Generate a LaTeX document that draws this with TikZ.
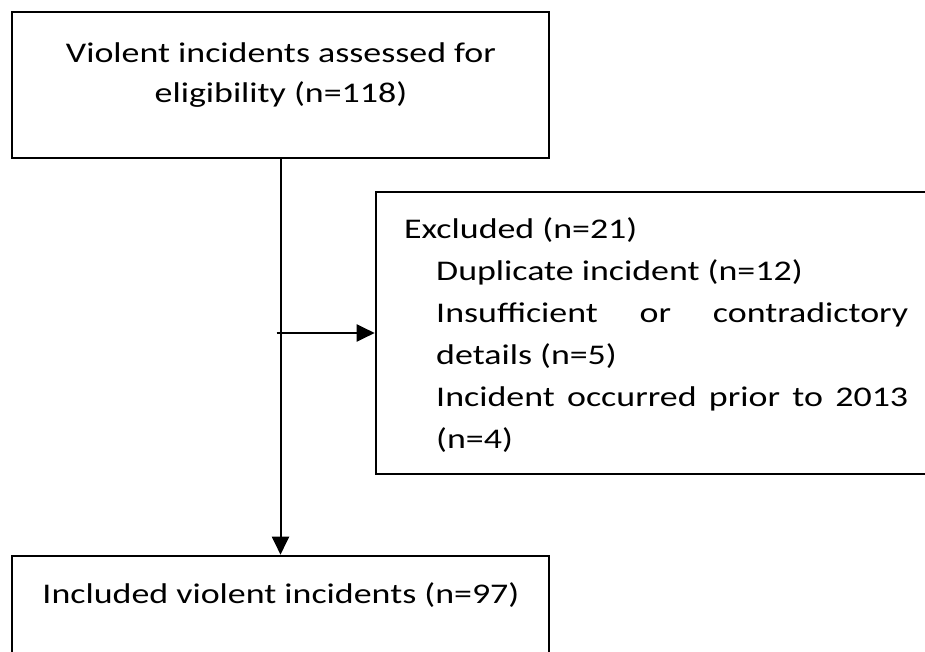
\documentclass[tikz,border=0pt]{standalone}
\usepackage{fontspec}
\setmainfont{Carlito}[FakeStretch=1.26]
\usepackage{tikz}
\usetikzlibrary{arrows.meta, calc, positioning, fit}
\hbadness=10000

\begin{document}
\begin{tikzpicture}[x=1pt, y=1pt, arrow/.style = {line width=2pt,-{Triangle[length=18pt,width=17pt]}}]
		\tikzset{stage/.style={draw=black,rectangle,inner sep=0pt,line width=2.6pt}}
		\tikzset{boxtext/.style={inner sep=0pt,font=\fontsize{28.5pt}{40pt}\selectfont}}
		\useasboundingbox (0,0) rectangle (925,-652);
		\clip (0,0) rectangle (925,-652);

		\node[fit={(12,-12) (549,-158)}, stage] (assessed) {};
		\node[fit={(376,-192) (945,-474)}, stage] (excluded) {};
		\node[fit={(12,-556) (549,-680)}, stage] (included) {};

		\node[boxtext, align=center, anchor=base] (assessedtext) at (281,-103) {Violent incidents assessed for\\eligibility (n=118)};
		\node[boxtext, text width=504pt, align=justify, anchor=base west, font=\fontsize{28.5pt}{42pt}\selectfont] (excludedtext) at (404,-238) {Excluded (n=21)\par\leftskip=32pt Duplicate incident (n=12)\par Insufficient or contradictory\linebreak details (n=5)\par Incident occurred prior to 2013\linebreak (n=4)\par};
		\node[boxtext, anchor=base] (includedtext) at (281,-603) {Included violent incidents (n=97)};

		\coordinate (split) at ($(assessed.south |- excluded.west)+(-4,0)$);
		\draw [arrow] (assessed) -- (included);
		\draw [arrow] (split) -- (excluded);

	\end{tikzpicture}
\end{document}
